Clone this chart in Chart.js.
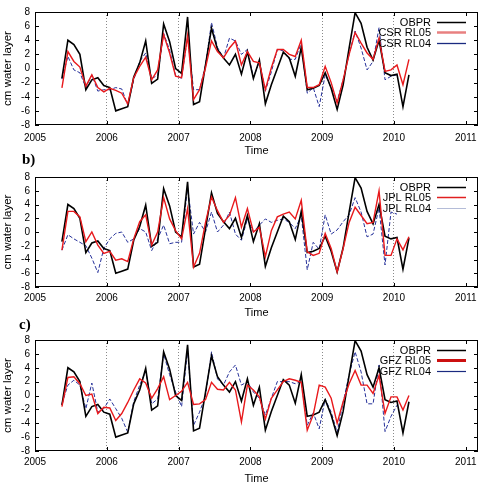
<!DOCTYPE html>
<html>
<head>
<meta charset="utf-8">
<script src="https://cdn.jsdelivr.net/npm/chart.js@4.4.0/dist/chart.umd.min.js"></script>
<style>
    body { margin: 0; background: #fff; width: 485px; height: 484px; position: relative; overflow: hidden; }
    canvas { position: absolute; left: 0; }
    .lbl { position: absolute; font: bold 15px "Liberation Serif", serif; color: #000; }
</style>
</head>
<body>
<canvas id="ca" width="485" height="160" style="top:0"></canvas>
<canvas id="cb" width="485" height="160" style="top:160px"></canvas>
<canvas id="cc" width="485" height="162" style="top:322px"></canvas>
<div class="lbl" style="left:22px;top:151px">b)</div>
<div class="lbl" style="left:19px;top:316px">c)</div>
<script>
const months = [
    "2005-05", "2005-06", "2005-07", "2005-08", "2005-09", "2005-10", "2005-11", "2005-12",
    "2006-01", "2006-02", "2006-03", "2006-04", "2006-05", "2006-06", "2006-07", "2006-08", "2006-09", "2006-10", "2006-11", "2006-12",
    "2007-01", "2007-02", "2007-03", "2007-04", "2007-05", "2007-06", "2007-07", "2007-08", "2007-09", "2007-10", "2007-11", "2007-12",
    "2008-01", "2008-02", "2008-03", "2008-04", "2008-05", "2008-06", "2008-07", "2008-08", "2008-09", "2008-10", "2008-11", "2008-12",
    "2009-01", "2009-02", "2009-03", "2009-04", "2009-05", "2009-06", "2009-07", "2009-08", "2009-09", "2009-10", "2009-11", "2009-12",
    "2010-01", "2010-02", "2010-03"
];

const obpr = [-1.4, 4.0, 3.4, 2.0, -3.0, -1.6, -1.3, -2.4, -2.7, -6.0, -5.7, -5.4, -1.2, 0.8, 3.9, -2.1, -1.5, 6.3, 3.8, 0.0,
    -0.7, 7.3, -5.1, -4.7, 0.5, 5.7, 2.7, 1.5, 0.5, 2.0, -0.8, 2.4, -1.4, 1.2, -5.0, -2.3, 0.0, 2.3, 1.5, -1.1,
    3.0, -3.0, -2.8, -2.4, -0.6, -2.8, -5.8, -2.3, 2.9, 7.9, 6.4, 3.0, 1.2, 4.0, -0.6, -1.0, -0.8, -5.4, -0.9];

const csr05 = [-2.75, 2.4, 1.0, 0.2, -2.5, -0.9, -2.7, -3.3, -2.8, -3.1, -3.5, -5.0, -1.3, 0.3, 1.6, -1.6, -0.2, 4.8, 2.2, -1.1,
    -1.3, 4.6, -4.4, -3.0, 0.1, 3.9, 2.4, 1.5, 2.9, 3.9, 0.5, 2.4, 1.0, 0.8, -3.0, 0.1, 2.7, 2.7, 2.0, 1.7,
    4.0, -2.7, -2.7, -2.3, 0.3, -2.0, -4.9, -1.6, 2.0, 5.1, 3.6, 2.2, 1.3, 4.3, -0.4, -0.2, 0.5, -2.3, 1.3];

const csr04 = [-1.5, 1.7, -0.2, -0.6, -2.7, -0.9, -3.2, -3.0, -3.0, -2.7, -2.9, -5.2, -1.6, 1.0, 2.2, -1.4, -1.0, 5.0, 2.6, -1.0,
    -1.4, 4.5, -3.0, -3.0, 0.5, 6.5, 3.0, 1.5, 4.3, 3.9, 2.0, 2.7, -1.3, 1.0, -3.2, -0.5, 2.7, 2.5, 1.3, 1.3,
    3.6, -3.5, -2.7, -5.4, -0.9, -2.7, -4.6, -1.6, 2.0, 5.3, 2.9, -0.2, 1.0, 5.8, -1.6, -1.1, -0.9, null, null];

const jpl05 = [-2.65, 3.0, 3.0, 2.2, -1.4, 0.0, -1.9, -3.1, -2.8, -4.1, -3.9, -4.3, -1.0, 1.5, 2.5, -1.9, 0.0, 5.0, 1.9, 0.2,
    -1.0, 3.4, -5.1, -3.1, 1.4, 5.1, 3.1, 1.4, 2.4, 5.0, 0.7, 3.4, 0.0, 0.7, -3.6, 0.2, 2.2, 2.6, 2.9, 1.9,
    4.6, -2.9, -3.4, -3.1, -0.2, -2.4, -5.8, -2.4, 1.4, 3.6, 2.4, 1.2, 1.4, 6.0, -3.4, -3.4, -1.0, -2.6, -0.7];

const jpl04 = [-2.65, -0.4, -1.0, -1.5, -2.0, -3.8, -5.9, -2.4, -1.0, -0.2, 0.0, -1.5, -1.0, 0.5, 0.0, -2.7, -1.0, 1.0, -1.7, -1.5,
    -1.5, 6.5, -0.3, 1.4, 0.0, 2.9, 0.0, 1.0, 2.9, -0.3, -1.2, 1.9, 0.0, 1.0, 1.9, 1.4, 1.7, 1.9, 1.4, 0.5,
    2.4, -5.5, -1.5, -2.5, 2.5, -0.3, 0.3, 1.5, 2.5, 5.0, 2.9, -0.7, -0.3, 3.5, -4.8, 2.9, 2.6, null, null];

const gfz05 = [-1.6, 2.6, 2.7, 1.7, 0.0, 0.2, -2.6, -1.7, -1.8, -3.6, -2.6, -1.0, 0.8, 2.4, 1.8, -0.4, 1.0, 2.7, -0.6, 0.0,
    0.6, 1.9, -1.3, -1.2, -0.6, 1.9, 0.9, 0.8, 1.9, 0.8, -3.8, 1.5, 0.8, -0.2, -3.4, -0.4, 0.8, 2.0, 2.4, 2.2,
    1.9, -5.0, -2.8, 1.5, 1.2, -0.4, -4.0, -0.9, 1.7, 3.6, 1.5, 1.5, 0.3, 2.9, -2.6, -0.2, -0.2, -2.1, 0.0];

const gfz04 = [-1.2, 1.5, 2.2, 1.5, -1.9, 1.8, -2.4, -1.9, -0.5, -1.9, -3.3, -5.3, -0.9, 1.5, 3.5, -1.2, -0.5, 6.0, 3.0, 0.5,
    -1.6, 6.5, -4.3, -2.4, 0.0, 6.3, 2.4, 1.5, 3.4, 4.4, 1.5, 2.0, 0.5, -0.4, -2.8, -0.4, 2.0, 2.0, 2.0, 1.7,
    2.0, -4.3, -2.5, -4.8, -0.5, -2.4, -5.3, -1.0, 3.0, 6.3, 3.4, -1.2, -1.2, 4.4, -5.2, -3.0, -1.4, null, null];

const years = [2005, 2006, 2007, 2008, 2009, 2010, 2011];
const gridYears = [2006, 2007, 2009, 2010];
const yTicks = [-8, -6, -4, -2, 0, 2, 4, 6, 8];

const family = '"Liberation Sans", Arial, sans-serif';

// mes -> año decimal (mitad del mes)
const xs = months.map(m => {
    const [y, mo] = m.split("-").map(Number);
    return y + (mo - 0.5) / 12;
});
const pts = vals => vals.map((v, i) => ({ x: xs[i], y: v }));

// marco, ticks hacia dentro y leyenda a la derecha
const frame = {
    id: "frame",
    afterDraw(chart, args, opts) {
        const { ctx, chartArea: a, scales } = chart;
        ctx.save();
        ctx.strokeStyle = "#000";
        ctx.lineWidth = 1;
        ctx.setLineDash([]);
        ctx.strokeRect(Math.round(a.left) + 0.5, Math.round(a.top) + 0.5,
            Math.round(a.right - a.left) - 1, Math.round(a.bottom - a.top) - 1);
        ctx.beginPath();
        yTicks.forEach(v => {
            const py = Math.round(scales.y.getPixelForValue(v)) + 0.5;
            ctx.moveTo(a.left, py); ctx.lineTo(a.left + 4, py);
            ctx.moveTo(a.right, py); ctx.lineTo(a.right - 4, py);
        });
        years.forEach(v => {
            const px = Math.round(scales.x.getPixelForValue(v)) + 0.5;
            ctx.moveTo(px, a.bottom); ctx.lineTo(px, a.bottom - 4);
            ctx.moveTo(px, a.top); ctx.lineTo(px, a.top + 4);
        });
        ctx.stroke();

        ctx.font = "11px " + family;
        ctx.textAlign = "right";
        ctx.textBaseline = "middle";
        opts.items.forEach((it, i) => {
            const y = Math.round(a.top + opts.rows[i]) + 0.5;
            ctx.fillStyle = "#000";
            ctx.fillText(it.text, 431, y);
            ctx.strokeStyle = it.color;
            ctx.lineWidth = it.width;
            ctx.setLineDash(it.dash || []);
            ctx.beginPath();
            ctx.moveTo(437, y);
            ctx.lineTo(466, y);
            ctx.stroke();
        });
        ctx.restore();
    }
};

function panel(id, red, blue, legendItems, pad) {
    return new Chart(document.getElementById(id), {
        type: "line",
        data: {
            datasets: [
                { label: legendItems[1].text, data: pts(red), borderColor: "#e8191c", borderWidth: 1.4 },
                { label: "OBPR", data: pts(obpr), borderColor: "#000", borderWidth: 1.6 },
                { label: legendItems[2].text, data: pts(blue), borderColor: "#26319a", borderWidth: 1, borderDash: [4, 2] }
            ]
        },
        options: {
            responsive: false,
            animation: false,
            devicePixelRatio: 1,
            layout: { padding: { top: pad.top, right: 7, left: 0, bottom: 0 } },
            elements: { point: { radius: 0 }, line: { tension: 0 } },
            plugins: {
                legend: { display: false },
                tooltip: { enabled: false },
                frame: { items: legendItems, rows: [9.5, 20, 30.5] }
            },
            scales: {
                x: {
                    type: "linear",
                    min: 2005,
                    max: 2011.17,
                    afterBuildTicks: s => { s.ticks = years.map(v => ({ value: v })); },
                    afterFit: s => { s.height = pad.axis; },
                    ticks: { font: { size: 10, family }, color: "#000", padding: pad.tick, autoSkip: false, maxRotation: 0, callback: v => String(v) },
                    grid: {
                        drawTicks: false,
                        lineWidth: 1,
                        color: c => (c.tick && gridYears.includes(c.tick.value)) ? "#8a8a8a" : "rgba(0,0,0,0)"
                    },
                    border: { display: false, dash: [1, 2] },
                    title: { display: true, text: "Time", font: { size: 11, family }, color: "#000", padding: { top: 0, bottom: pad.title } }
                },
                y: {
                    min: -8,
                    max: 8,
                    afterBuildTicks: s => { s.ticks = yTicks.map(v => ({ value: v })); },
                    afterFit: s => { s.width = 35; },
                    ticks: { font: { size: 10, family }, color: "#000", padding: 5, autoSkip: false, callback: v => String(v) },
                    grid: { display: false, drawTicks: false },
                    border: { display: false },
                    title: { display: true, text: "cm water layer", font: { size: 11.5, family }, color: "#000", padding: { top: 1, bottom: 0 } }
                }
            }
        },
        plugins: [frame]
    });
}

panel("ca", csr05, csr04, [
    { text: "OBPR", color: "#000", width: 1.5 },
    { text: "CSR RL05", color: "#e88080", width: 2.5 },
    { text: "CSR RL04", color: "#1a2a80", width: 1.3 }
], { top: 12, axis: 35, tick: 7, title: 2 });

panel("cb", jpl05, jpl04, [
    { text: "OBPR", color: "#000", width: 1.5 },
    { text: "JPL RL05", color: "#e02020", width: 1.5 },
    { text: "JPL RL04", color: "#b4bcd8", width: 1 }
], { top: 17, axis: 33, tick: 5, title: 0 });

panel("cc", gfz05, gfz04, [
    { text: "OBPR", color: "#000", width: 1.5 },
    { text: "GFZ RL05", color: "#cc1010", width: 3 },
    { text: "GFZ RL04", color: "#1a2a80", width: 1.2 }
], { top: 18, axis: 33, tick: 5, title: -1.5 });
</script>
</body>
</html>
